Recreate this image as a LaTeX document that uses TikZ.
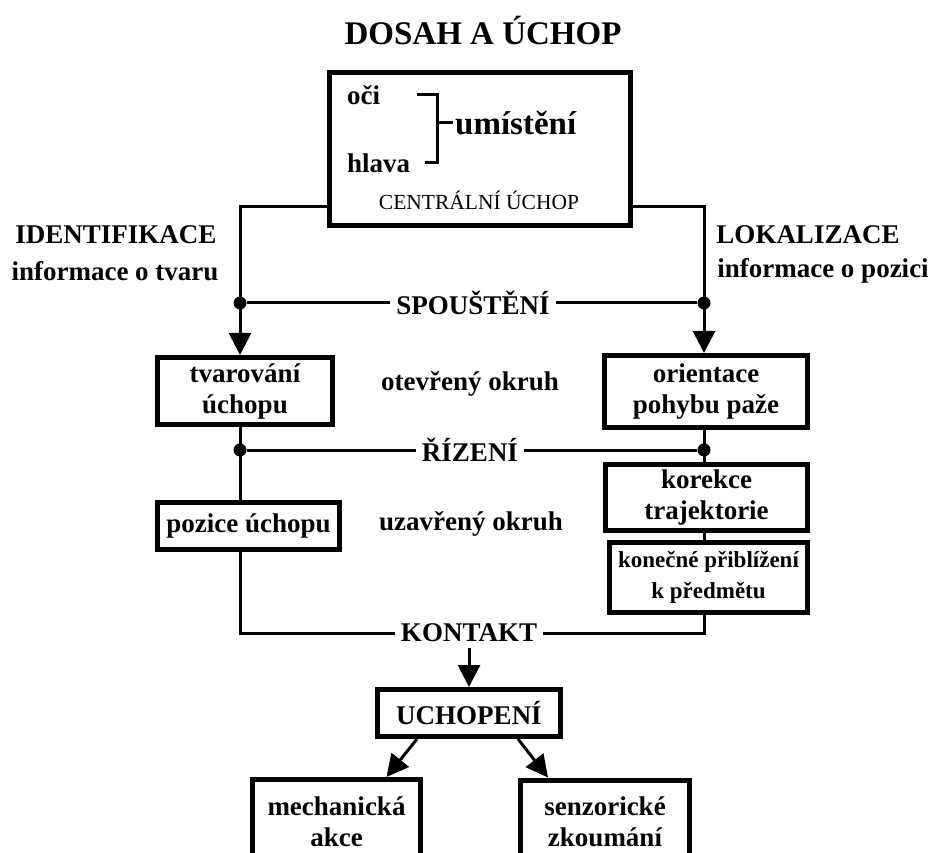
\documentclass[tikz,border=0pt]{standalone}
\usepackage{fontspec}
\setmainfont{Liberation Serif}
\usetikzlibrary{arrows.meta}

\begin{document}
\begin{tikzpicture}[x=1pt, y=-1pt,
    box/.style={draw, line width=5pt, align=center, inner sep=0pt,
                font=\bfseries\fontsize{27}{31}\selectfont},
    lbl/.style={font=\bfseries\fontsize{27}{31}\selectfont, inner sep=6pt},
    big/.style={font=\bfseries\fontsize{33}{36}\selectfont},
    ln/.style={line width=3pt},
    ar/.style={-{Triangle[length=22pt, width=22pt]}, line width=3pt},
    dot/.style={circle, fill, inner sep=0pt, minimum size=13pt}
  ]
    \useasboundingbox (0,0) rectangle (930,853);
    \clip (0,0) rectangle (930,853);
    \fill[white] (0,0) rectangle (930,853);
    \node[big] (title) at (483,31) {DOSAH A ÚCHOP};
    % central box
    \node[box, minimum width=301pt, minimum height=153pt] (central) at (480,149) {};
    \node[lbl, inner sep=2pt, anchor=west] (oci)   at (345,95)  {oči};
    \node[lbl, inner sep=2pt, anchor=west] (hlava) at (345,163) {hlava};
    \node[big, inner sep=2pt, anchor=west] (umist) at (453,123) {umístění};
    \node[font=\fontsize{21.5}{24}\selectfont] (centr) at (479,200) {CENTRÁLNÍ ÚCHOP};
    \draw[ln] ([xshift=35pt]oci.east) -| ([xshift=-16pt]umist.west)
      |- ([xshift=13pt]hlava.east);
    \draw[ln] ([xshift=-16pt]umist.west) -- (umist.west);
    % side labels
    \node[lbl] (ident) at (116,235) {IDENTIFIKACE};
    \node[lbl] (tvaru) at (115,271) {informace o tvaru};
    \node[lbl] (lokal) at (808,235) {LOKALIZACE};
    \node[lbl] (pozic) at (823,271) {informace o pozici};
    % boxes
    \node[box, minimum width=175pt, minimum height=67pt] (tvar)   at (245,391)   {tvarování\\úchopu};
    \node[box, minimum width=203pt, minimum height=72pt] (orient) at (706,391.5) {orientace\\pohybu paže};
    \node[box, minimum width=202pt, minimum height=66pt] (kor)    at (706.5,497.5) {korekce\\trajektorie};
    \node[box, minimum width=198pt, minimum height=70pt,
          font=\bfseries\fontsize{23}{31}\selectfont] (kon) at (708.5,577.5) {konečné přiblížení\\k předmětu};
    \node[box, minimum width=182pt, minimum height=47pt] (pos)    at (248.5,526) {pozice úchopu};
    \node[box, minimum width=183pt, minimum height=47pt] (uch)    at (469,713)   {UCHOPENÍ};
    \node[box, minimum width=168pt, minimum height=84pt] (mech)   at (336.5,821.5) {mechanická\\akce};
    \node[box, minimum width=169pt, minimum height=84pt] (senz)   at (605,822) {senzorické\\zkoumání};
    % row labels
    \node[lbl] (spou) at (473,303) {SPOUŠTĚNÍ};
    \node[lbl] (otev) at (470,384) {otevřený okruh};
    \node[lbl] (riz)  at (470,450) {ŘÍZENÍ};
    \node[lbl] (uzav) at (471,524) {uzavřený okruh};
    \node[lbl] (kont) at (469,633) {KONTAKT};
    % junctions
    \node[dot] (d1) at (240,303) {};
    \node[dot] (d2) at (704,303) {};
    \node[dot] (d3) at (240,450) {};
    \node[dot] (d4) at (704,450) {};
    % connectors
    \draw[ar] ([yshift=-58pt]central.west) -| (d1.center) -- (d1 |- tvar.north);
    \draw[ar] ([yshift=-58pt]central.east) -| (d2.center) -- (d2 |- orient.north);
    \draw[ln] (d1) -- (spou);
    \draw[ln] (spou) -- (d2);
    \draw[ln] (d1 |- tvar.south) -- (d1 |- pos.north);
    \draw[ln] (d2 |- orient.south) -- (d2 |- kor.north);
    \draw[ln] (d2 |- kor.south) -- (d2 |- kon.north);
    \draw[ln] (d3) -- (riz);
    \draw[ln] (riz) -- (d4);
    \draw[ln] (d3 |- pos.south) |- (kont);
    \draw[ln] (d4 |- kon.south) |- (kont);
    \draw[ar] (kont) -- (uch);
    \draw[ar] ([xshift=-52pt]uch.south) -- ([xshift=50pt]mech.north);
    \draw[ar] ([xshift=49pt]uch.south) -- ([xshift=-57pt]senz.north);
  \end{tikzpicture}
\end{document}
